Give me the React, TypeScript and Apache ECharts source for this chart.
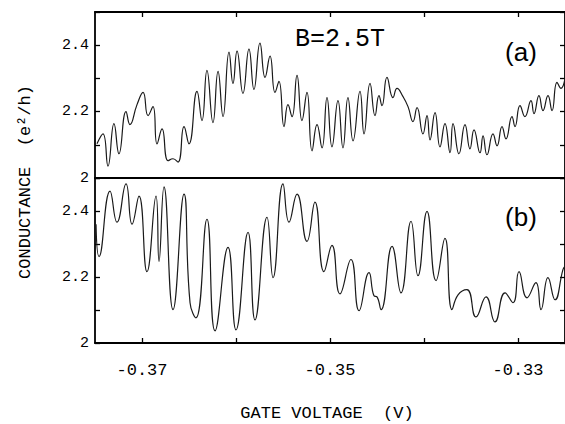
import React, { useEffect, useRef } from "react";
import * as echarts from "echarts";

// Panel (a): B = 2.5 T
const topVoltage = [
  -0.37479, -0.37415, -0.37362, -0.37298, -0.37245, -0.3717, -0.37128, -0.37053, -0.36989, -0.36936,
  -0.36883, -0.3684, -0.36787, -0.36723, -0.3667, -0.36617, -0.36553, -0.365, -0.36415, -0.36362,
  -0.36309, -0.36245, -0.36191, -0.36138, -0.36074, -0.36032, -0.35989, -0.35926, -0.35862, -0.35809,
  -0.35745, -0.35691, -0.35638, -0.35585, -0.35543, -0.35489, -0.35447, -0.35404, -0.35351, -0.35298,
  -0.35245, -0.35191, -0.35138, -0.35085, -0.35032, -0.34979, -0.34915, -0.34862, -0.34809, -0.34755,
  -0.34681, -0.34638, -0.34574, -0.34521, -0.34479, -0.34447, -0.34394, -0.3433, -0.34287, -0.34223,
  -0.3417, -0.34117, -0.34074, -0.34011, -0.33968, -0.33936, -0.33883, -0.3383, -0.33777, -0.33723,
  -0.33691, -0.33628, -0.33564, -0.33511, -0.33468, -0.33404, -0.33372, -0.3333, -0.33266, -0.33223,
  -0.3317, -0.33128, -0.33064, -0.33032, -0.32979, -0.32926, -0.32862, -0.3283, -0.32777, -0.32734,
  -0.32681, -0.32638, -0.32585, -0.32543, -0.325,
];
const topConductance = [
  2.103, 2.133, 2.036, 2.164, 2.073, 2.2, 2.161, 2.221, 2.258, 2.188,
  2.215, 2.103, 2.148, 2.052, 2.058, 2.048, 2.155, 2.103, 2.261, 2.173,
  2.324, 2.167, 2.321, 2.185, 2.379, 2.285, 2.382, 2.255, 2.388, 2.267,
  2.406, 2.303, 2.367, 2.258, 2.291, 2.155, 2.221, 2.185, 2.309, 2.173,
  2.258, 2.082, 2.161, 2.091, 2.242, 2.094, 2.233, 2.091, 2.242, 2.112,
  2.261, 2.133, 2.285, 2.188, 2.248, 2.218, 2.303, 2.242, 2.27, 2.245,
  2.215, 2.17, 2.212, 2.133, 2.188, 2.115, 2.197, 2.094, 2.164, 2.076,
  2.164, 2.073, 2.161, 2.088, 2.145, 2.076, 2.127, 2.07, 2.133, 2.097,
  2.155, 2.118, 2.185, 2.155, 2.218, 2.185, 2.233, 2.194, 2.248, 2.203,
  2.248, 2.203, 2.288, 2.27, 2.3,
];

// Panel (b)
const bottomVoltage = [
  -0.37489, -0.37457, -0.3734, -0.37266, -0.3717, -0.37106, -0.37032, -0.36947, -0.36851, -0.36819,
  -0.36766, -0.3667, -0.36553, -0.36489, -0.36426, -0.36309, -0.36223, -0.36085, -0.36, -0.35872,
  -0.35798, -0.3567, -0.35606, -0.355, -0.35436, -0.35351, -0.35245, -0.3516, -0.35064, -0.34979,
  -0.34894, -0.34777, -0.34691, -0.34585, -0.34532, -0.345, -0.34457, -0.3434, -0.34245, -0.34138,
  -0.34064, -0.33968, -0.33872, -0.33777, -0.33702, -0.33638, -0.33543, -0.33447, -0.3334, -0.33245,
  -0.33138, -0.33053, -0.32989, -0.32904, -0.32809, -0.32755, -0.32681, -0.32606, -0.32521, -0.325,
];
const bottomConductance = [
  2.36, 2.262, 2.46, 2.366, 2.482, 2.36, 2.445, 2.216, 2.445, 2.247,
  2.473, 2.101, 2.451, 2.122, 2.076, 2.375, 2.037, 2.29, 2.04, 2.335,
  2.07, 2.381, 2.198, 2.482, 2.366, 2.451, 2.308, 2.427, 2.216, 2.296,
  2.149, 2.253, 2.098, 2.213, 2.143, 2.14, 2.101, 2.293, 2.152, 2.369,
  2.204, 2.399, 2.189, 2.317, 2.101, 2.146, 2.162, 2.079, 2.14, 2.064,
  2.152, 2.122, 2.216, 2.137, 2.183, 2.101, 2.198, 2.131, 2.223, 2.233,
];

const xMin = -0.375;
const xMax = -0.325;
const xTickValues = [-0.37, -0.36, -0.35, -0.34, -0.33];
const xLabelValues = [-0.37, -0.35, -0.33];
const yMin = 2;
const yMax = 2.5;
const yLabelValues = [2, 2.2, 2.4];

const MONO = "'Liberation Mono', 'DejaVu Sans Mono', monospace";
const INK = "#000";

export default function App() {
  const ref = useRef<HTMLDivElement>(null);

  useEffect(() => {
    if (!ref.current) return;
    const chart = echarts.init(ref.current, undefined, { renderer: "svg" });

    const axisLine = { show: true, lineStyle: { color: INK, width: 1.8 } };
    const tickStyle = { color: INK, width: 1.3 };

    const xAxisBase = (grid: number, position: string, ticks: boolean, labels: boolean) => ({
      type: "value",
      gridIndex: grid,
      position,
      min: xMin,
      max: xMax,
      axisLine,
      splitLine: { show: false },
      axisTick: ticks
        ? { show: true, inside: true, length: 5, lineStyle: tickStyle, customValues: xTickValues }
        : { show: false },
      axisLabel: labels
        ? {
            show: true,
            customValues: xLabelValues,
            margin: 19,
            color: INK,
            fontFamily: MONO,
            fontSize: 17,
            formatter: (v: number) => v.toFixed(2),
          }
        : { show: false },
    });

    const yAxisBase = (grid: number, position: string, labels: boolean) => ({
      type: "value",
      gridIndex: grid,
      position,
      min: yMin,
      max: yMax,
      interval: 0.1,
      axisLine,
      splitLine: { show: false },
      axisTick: { show: true, inside: true, length: 5, lineStyle: tickStyle },
      axisLabel: labels
        ? {
            show: true,
            customValues: yLabelValues,
            margin: 6,
            color: INK,
            fontFamily: MONO,
            fontSize: 15,
            formatter: (v: number) => String(Number(v.toFixed(1))),
          }
        : { show: false },
    });

    const toPairs = (xs: number[], ys: number[]) => xs.map((x, i) => [x, ys[i]]);

    chart.setOption({
      animation: false,
      backgroundColor: "#fff",
      grid: [
        { left: 95, top: 12, width: 471, height: 166 },
        { left: 95, top: 178, width: 471, height: 165 },
      ],
      xAxis: [
        xAxisBase(0, "bottom", false, false),
        xAxisBase(0, "top", true, false),
        xAxisBase(1, "bottom", true, true),
        xAxisBase(1, "top", false, false),
      ],
      yAxis: [
        yAxisBase(0, "left", true),
        yAxisBase(0, "right", false),
        yAxisBase(1, "left", true),
        yAxisBase(1, "right", false),
      ],
      series: [
        {
          type: "line",
          xAxisIndex: 0,
          yAxisIndex: 0,
          data: toPairs(topVoltage, topConductance),
          showSymbol: false,
          smooth: 0.5,
          lineStyle: { color: "#1a1a1a", width: 1.2 },
        },
        {
          type: "line",
          xAxisIndex: 2,
          yAxisIndex: 2,
          data: toPairs(bottomVoltage, bottomConductance),
          showSymbol: false,
          smooth: 0.5,
          lineStyle: { color: "#1a1a1a", width: 1.2 },
        },
      ],
      graphic: [
        {
          type: "text",
          x: 340,
          y: 39,
          style: {
            text: "B=2.5T",
            font: `25px ${MONO}`,
            fill: INK,
            textAlign: "center",
            textVerticalAlign: "middle",
          },
        },
        {
          type: "text",
          x: 521,
          y: 52,
          style: {
            text: "(a)",
            font: "26px 'Liberation Sans', Arial, sans-serif",
            fill: INK,
            textAlign: "center",
            textVerticalAlign: "middle",
          },
        },
        {
          type: "text",
          x: 521,
          y: 217,
          style: {
            text: "(b)",
            font: "26px 'Liberation Sans', Arial, sans-serif",
            fill: INK,
            textAlign: "center",
            textVerticalAlign: "middle",
          },
        },
        {
          type: "text",
          x: 25,
          y: 182,
          rotation: Math.PI / 2,
          style: {
            text: "CONDUCTANCE  (e²/h)",
            font: `17px ${MONO}`,
            fill: INK,
            textAlign: "center",
            textVerticalAlign: "middle",
          },
        },
        {
          type: "text",
          x: 327,
          y: 413,
          style: {
            text: "GATE VOLTAGE  (V)",
            font: `17px ${MONO}`,
            fill: INK,
            textAlign: "center",
            textVerticalAlign: "middle",
          },
        },
      ],
    });

    return () => chart.dispose();
  }, []);

  return (
    <div
      ref={ref}
      style={{ position: "fixed", left: 0, top: 0, width: 565, height: 424, background: "#fff" }}
    />
  );
}
